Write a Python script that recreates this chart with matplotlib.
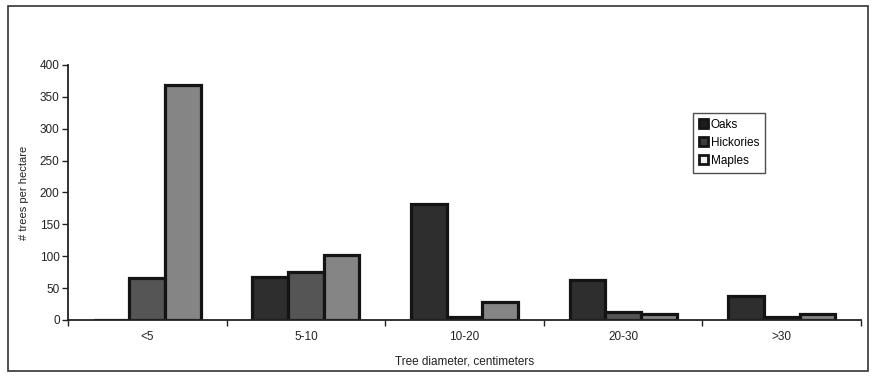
import matplotlib
matplotlib.use("Agg")
import matplotlib.pyplot as plt
import numpy as np
from matplotlib.patches import Rectangle

plt.rcParams['font.family'] = ['Liberation Sans', 'DejaVu Sans']

categories = ["<5", "5-10", "10-20", "20-30", ">30"]
oaks = [0, 68, 182, 63, 37]
hickories = [66, 75, 5, 13, 5]
maples = [368, 102, 29, 9, 9]
series_names = ["Oaks", "Hickories", "Maples"]
yticks = [0, 50, 100, 150, 200, 250, 300, 350, 400]

fig = plt.figure(figsize=(8.75, 3.78), dpi=100)
ax = fig.add_axes([68/875, 1-320/378, (861-68)/875, (320-65)/378])

x = np.arange(len(categories))
w = 0.225
fills = ["#2e2e2e", "#555555", "#858585"]
for i, (vals, name, fc) in enumerate(zip([oaks, hickories, maples], series_names, fills)):
    ax.bar(x + (i - 1) * w, vals, width=w, color=fc, edgecolor="#141414",
           linewidth=2.3, label=name, zorder=3)

ax.set_xlim(-0.5, len(categories) - 0.5)
ax.set_ylim(0, 400)
ax.set_yticks(yticks)
ax.set_yticklabels([str(v) for v in yticks])
ax.set_xticks(x)
ax.set_xticklabels(categories)
ax.set_xticks(np.arange(len(categories) + 1) - 0.5, minor=True)
ax.tick_params(axis='x', which='major', length=0, pad=8, labelsize=8.5, colors="#222222")
ax.tick_params(axis='x', which='minor', length=4, width=1, direction='out', color="#222222")
ax.tick_params(axis='y', length=4, width=1, direction='out', labelsize=8.5, colors="#222222", pad=2)
for s in ['top', 'right']:
    ax.spines[s].set_visible(False)
for s in ['left', 'bottom']:
    ax.spines[s].set_linewidth(1.3)
    ax.spines[s].set_color("#222222")
    ax.spines[s].set_zorder(4)

ax.set_xlabel("Tree diameter, centimeters", fontsize=8.5, color="#222222", labelpad=9)
ax.set_ylabel("# trees per hectare", fontsize=8, color="#222222", labelpad=8)

leg = ax.legend(loc='upper left', bbox_to_anchor=(0.788, 0.812), frameon=True,
                fancybox=False, edgecolor="#222222", fontsize=8.5,
                handlelength=0.75, handleheight=0.75, handletextpad=0.25,
                borderpad=0.5, labelspacing=0.5, borderaxespad=0)
leg.get_frame().set_linewidth(1.0)
for h, fc in zip(leg.legend_handles, ["#1e1e1e", "#3a3a3a", "#f2f2f2"]):
    h.set_facecolor(fc)
    h.set_linewidth(2.0)

fig.patches.append(Rectangle((8/875, 1-371/378), (868-8)/875, (371-6)/378,
                             transform=fig.transFigure, fill=False,
                             edgecolor="#333333", linewidth=1.2))

fig.savefig("out.png", dpi=100, facecolor="white")
